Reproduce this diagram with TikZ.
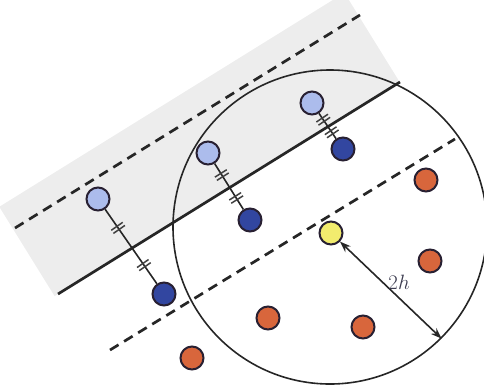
\documentclass[tikz,border=0pt]{standalone}
\usepackage{tikz}
\usetikzlibrary{arrows.meta,positioning,calc,decorations.markings}
\usepackage{xcolor}
\definecolor{bandgray}{RGB}{237,237,237}
\definecolor{ptline}{RGB}{40,32,50}
\definecolor{lightblue}{RGB}{172,188,236}
\definecolor{darkblue}{RGB}{50,70,160}
\definecolor{ptorange}{RGB}{216,102,60}
\definecolor{ptyellow}{RGB}{242,236,110}
\definecolor{labelgray}{RGB}{60,60,80}
\tikzset{
  pt/.style={circle,draw=ptline,line width=2pt,minimum size=23pt,inner sep=0pt},
  ptlb/.style={pt,fill=lightblue},
  ptdb/.style={pt,fill=darkblue},
  ptor/.style={pt,fill=ptorange},
  ptyl/.style={pt,fill=ptyellow},
  ring/.style={circle,draw=black!85,line width=1.6pt,minimum size=314pt,inner sep=0pt},
  mirror/.style={line width=2.7pt,draw=black!85},
  margin/.style={line width=2.7pt,draw=black!85,dash pattern=on 10pt off 6.5pt},
  tickmk/.style={line width=1.5pt,draw=black!75},
  pairline/.style={line width=1.6pt,draw=black!85,postaction={decorate},
    decoration={markings,
      mark=at position 0.25 with {\draw[tickmk] (-1.9,-7) -- (-1.9,7) (1.9,-7) -- (1.9,7);},
      mark=at position 0.75 with {\draw[tickmk] (-1.9,-7) -- (-1.9,7) (1.9,-7) -- (1.9,7);}}},
  dimarrow/.style={{Stealth[length=11pt,width=8pt]}-{Stealth[length=11pt,width=8pt]},line width=1.6pt,draw=black!85}
}
\begin{document}
\begin{tikzpicture}[x=1pt,y=-1pt]
  \useasboundingbox (0,0) rectangle (484,389);
  % shaded band
  \fill[bandgray] (54.6,296.1) -- (399.7,82.1) -- (344.4,-7.2) -- (-0.7,206.8) -- cycle;
  % separating line and margins
  \coordinate (sl) at (58,294);  \coordinate (sr) at (400,82);
  \coordinate (ul) at (15,228);  \coordinate (ur) at (360,15);
  \coordinate (ll) at (110,350); \coordinate (lr) at (455,139);
  \draw[margin] (ul) -- (ur);
  \draw[margin] (ll) -- (lr);
  \draw[mirror] (sl) -- (sr);
  % neighbourhood
  \node[ring] (disk) at (330,227) {};
  % reflected pairs
  \node[ptlb] (lb1) at (98,199) {};
  \node[ptdb] (db1) at (164,294) {};
  \node[ptlb] (lb2) at (208,153) {};
  \node[ptdb] (db2) at (250,220) {};
  \node[ptlb] (lb3) at (312,103) {};
  \node[ptdb] (db3) at (343,149) {};
  \draw[pairline] (lb1) -- (db1);
  \draw[pairline] (lb2) -- (db2);
  \draw[pairline] (lb3) -- (db3);
  % other points
  \node[ptor] (or1) at (426,180) {};
  \node[ptor] (or2) at (430,261) {};
  \node[ptor] (or3) at (268,318) {};
  \node[ptor] (or4) at (363,327) {};
  \node[ptor] (or5) at (192,358) {};
  \node[ptyl] (yel) at (331,233) {};
  % radius
  \draw[dimarrow] (yel) -- (disk.-45)
    node[pos=0.42,right,inner sep=5pt,text=labelgray,font=\fontsize{21}{25}\selectfont] {$2h$};
\end{tikzpicture}
\end{document}
